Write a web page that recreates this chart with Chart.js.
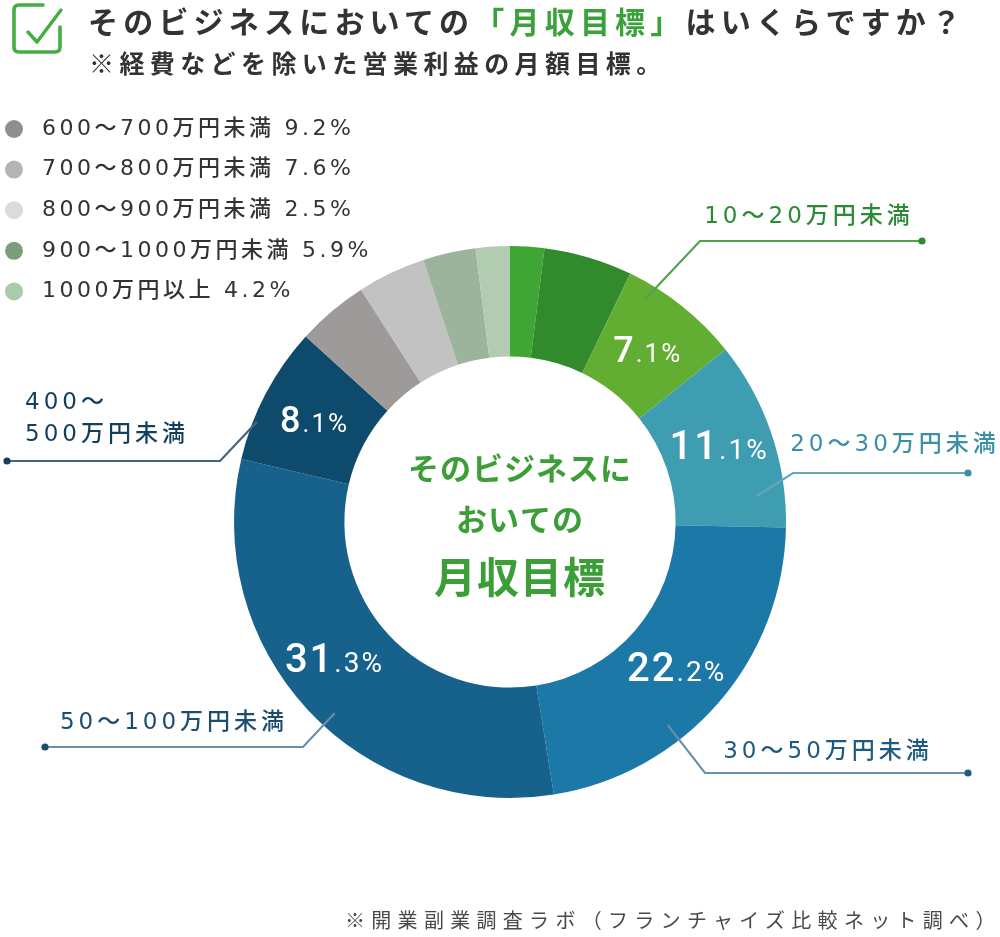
<!DOCTYPE html>
<html lang="ja">
<head>
<meta charset="utf-8">
<script src="https://cdn.jsdelivr.net/npm/chart.js@4.4.1/dist/chart.umd.min.js"></script>
<style>
html,body{margin:0;padding:0;background:#fff;}
#wrap{position:relative;width:1000px;height:937px;overflow:hidden;background:#fff;}
canvas{position:absolute;left:0;top:0;}
.t{position:absolute;white-space:nowrap;font-family:"Noto Sans CJK JP","Noto Sans",sans-serif;}
#title{left:88px;top:3px;font-size:30px;line-height:34px;font-weight:700;letter-spacing:5.2px;color:#333;}
#title span{color:#3aa23a;}
#sub{left:89px;top:46px;font-size:25px;line-height:32px;font-weight:700;letter-spacing:5.4px;color:#333;}
#foot{left:345px;top:906px;font-size:20px;line-height:28px;letter-spacing:6.3px;color:#4a4a4a;}
#icon{position:absolute;left:0;top:0;}
</style>
</head>
<body>
<div id="wrap">
<canvas id="c" width="1000" height="937"></canvas>
<svg id="icon" width="70" height="60" viewBox="0 0 70 60">
  <path d="M43 5 H19 Q14 5 14 10 V47 Q14 52 19 52 H55 Q60 52 60 47 V27" fill="none" stroke="#44ad44" stroke-width="3.6" stroke-linecap="round" stroke-linejoin="round"/>
  <path d="M28 32 L37 42 L61 10" fill="none" stroke="#44ad44" stroke-width="3.4" stroke-linecap="round" stroke-linejoin="round"/>
</svg>
<div id="title" class="t">そのビジネスにおいての<span>「月収目標」</span>はいくらですか？</div>
<div id="sub" class="t">※経費などを除いた営業利益の月額目標。</div>
<div id="foot" class="t">※開業副業調査ラボ（フランチャイズ比較ネット調べ）</div>
</div>
<script>
// ---- data ----
const categories = ['5万円未満','5〜10万円未満','10〜20万円未満','20〜30万円未満','30〜50万円未満','50〜100万円未満','400〜500万円未満','600〜700万円未満','700〜800万円未満','900〜1000万円未満','1000万円以上'];
const sliceValues = [2.0, 5.2, 7.1, 11.1, 22.2, 31.3, 8.1, 4.2, 4.0, 3.1, 2.0];
const sliceColors = ['#3fa636','#318b2d','#62ae33','#3f9db2','#1b78a7','#17628d','#0e4a6b','#9f9a9a','#c2c2c2','#9cb49c','#b1ccb1'];
const valueLabels = ['','','7.1%','11.1%','22.2%','31.3%','8.1%','','','',''];
const legendLabels = ['600〜700万円未満','700〜800万円未満','800〜900万円未満','900〜1000万円未満','1000万円以上'];
const legendValues = ['9.2%','7.6%','2.5%','5.9%','4.2%'];
const legendColors = ['#8f8f8f','#b4b4b4','#d9dcd9','#7c9d7c','#a9cba9'];
const centerLines = ['そのビジネスに','おいての','月収目標'];

// ---- layout / style (not data) ----
const valueFont = {2:[36,26],3:[40,28],4:[40,28],5:[40,28],6:[36,26]};
const valuePos = {3:[0.46,0.52],5:[0.547,0.51]};   // [angle fraction, radius fraction] within slice
const callouts = [
  {index:2, text:['10〜20万円未満'], t:0.21, rf:0.85, elbow:[700,241], end:[922,241], tx:807, ty:[217], align:'center', color:'#2b8a33', line:'#4fa34f'},
  {index:3, text:['20〜30万円未満'], t:0.82, rf:0.745, elbow:[793,473], end:[968,473], tx:893, ty:[445], align:'center', color:'#3b8fa6', line:'#5ea9bb'},
  {index:4, text:['30〜50万円未満'], t:0.64, rf:0.83, elbow:[705,773], end:[968,773], tx:826, ty:[752], align:'center', color:'#1e5b80', line:'#6790ad'},
  {index:5, text:['50〜100万円未満'], t:0.46, rf:0.85, elbow:[303,747], end:[45,747], tx:172, ty:[723], align:'center', color:'#1b4d6e', line:'#6a8fab'},
  {index:6, text:['400〜','500万円未満'], t:0.29, rf:0.965, elbow:[220,461], end:[7,461], tx:25, ty:[403,435], align:'left', color:'#123f5c', line:'#3f6582'}
];
const latinCJK = '"DejaVu Sans","Noto Sans CJK JP",sans-serif';

const overlay = {
  id:'overlay',
  afterDatasetsDraw(chart){
    const ctx = chart.ctx;
    const meta = chart.getDatasetMeta(0);
    ctx.save();
    // value labels inside slices
    meta.data.forEach((arc,i)=>{
      const lbl = valueLabels[i]; if(!lbl) return;
      let p;
      if (valuePos[i]) {
        const [t, rf] = valuePos[i];
        const a = arc.startAngle + t*(arc.endAngle-arc.startAngle);
        const r = arc.innerRadius + rf*(arc.outerRadius-arc.innerRadius);
        p = {x: arc.x + r*Math.cos(a), y: arc.y + r*Math.sin(a)};
      } else {
        p = arc.getCenterPoint();
      }
      const k = lbl.indexOf('.');
      const big = lbl.slice(0,k), small = lbl.slice(k);
      const [bs, ss] = valueFont[i];
      ctx.letterSpacing = '2px';
      ctx.font = '500 '+bs+'px Roboto, "Liberation Sans", sans-serif';
      const wb = ctx.measureText(big).width;
      ctx.font = '400 '+ss+'px Roboto, "Liberation Sans", sans-serif';
      const ws = ctx.measureText(small).width;
      const x0 = p.x - (wb+ws)/2;
      const base = p.y + bs*0.36;
      ctx.fillStyle = '#ffffff';
      ctx.textAlign = 'left'; ctx.textBaseline = 'alphabetic';
      ctx.font = '500 '+bs+'px Roboto, "Liberation Sans", sans-serif';
      ctx.fillText(big, x0, base);
      ctx.font = '400 '+ss+'px Roboto, "Liberation Sans", sans-serif';
      ctx.fillText(small, x0+wb, base);
    });
    // callouts
    callouts.forEach(c=>{
      const arc = meta.data[c.index];
      const a = arc.startAngle + c.t*(arc.endAngle-arc.startAngle);
      const r = arc.innerRadius + c.rf*(arc.outerRadius-arc.innerRadius);
      const sx = arc.x + r*Math.cos(a), sy = arc.y + r*Math.sin(a);
      ctx.strokeStyle = c.line; ctx.lineWidth = 2.2;
      ctx.beginPath(); ctx.moveTo(sx,sy); ctx.lineTo(c.elbow[0],c.elbow[1]); ctx.lineTo(c.end[0],c.end[1]); ctx.stroke();
      ctx.fillStyle = c.color;
      ctx.beginPath(); ctx.arc(c.end[0],c.end[1],3.6,0,Math.PI*2); ctx.fill();
      ctx.font = '500 23px '+latinCJK;
      ctx.letterSpacing = '4px';
      ctx.textAlign = c.align; ctx.textBaseline = 'middle';
      c.text.forEach((s,j)=>{
        const x = c.align==='center' ? c.tx + 2 : c.tx;
        ctx.fillText(s, x, c.ty[j]);
      });
    });
    // center text
    const cx = meta.data[0].x + 10, cy = meta.data[0].y;
    ctx.fillStyle = '#3b9e37';
    ctx.textAlign = 'center'; ctx.textBaseline = 'middle';
    ctx.letterSpacing = '1px';
    ctx.font = '700 31px "Noto Sans CJK JP", sans-serif';
    ctx.fillText(centerLines[0], cx, cy-54);
    ctx.fillText(centerLines[1], cx, cy-3);
    ctx.letterSpacing = '1px';
    ctx.font = '700 42px "Noto Sans CJK JP", sans-serif';
    ctx.fillText(centerLines[2], cx, cy+55);
    // legend
    legendLabels.forEach((s,i)=>{
      const y = 129 + i*40.6;
      ctx.fillStyle = legendColors[i];
      ctx.beginPath(); ctx.arc(14, y, 9, 0, Math.PI*2); ctx.fill();
      ctx.fillStyle = '#333';
      ctx.textAlign = 'left'; ctx.textBaseline = 'middle';
      ctx.letterSpacing = '3.5px';
      ctx.font = '500 22px '+latinCJK;
      ctx.fillText(s, 42, y);
      const w = ctx.measureText(s).width;
      ctx.fillText(legendValues[i], 42 + w + 10, y);
    });
    ctx.restore();
  }
};

new Chart(document.getElementById('c'), {
  type:'doughnut',
  data:{
    labels: categories,
    datasets:[{data: sliceValues, backgroundColor: sliceColors, borderWidth:0, hoverOffset:0}]
  },
  options:{
    responsive:false,
    animation:false,
    cutout:'60%',
    layout:{padding:{left:234,right:214,top:246,bottom:139}},
    plugins:{legend:{display:false}, tooltip:{enabled:false}}
  },
  plugins:[overlay]
});
</script>
</body>
</html>
